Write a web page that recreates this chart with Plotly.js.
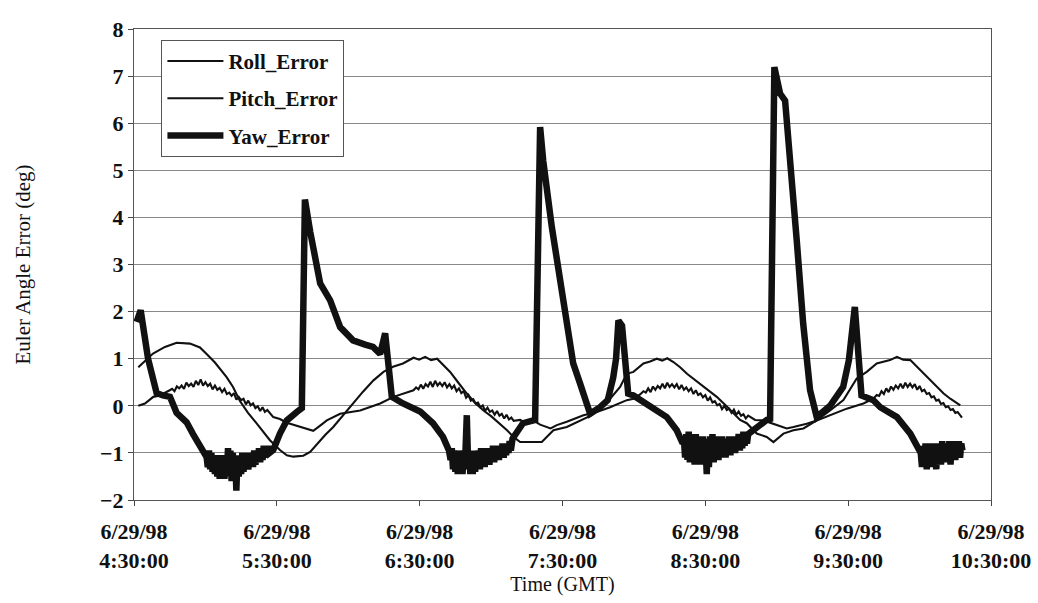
<!DOCTYPE html>
<html><head><meta charset="utf-8">
<script src="https://cdn.plot.ly/plotly-3.0.1.min.js"></script>
<style>html,body{margin:0;padding:0;background:#fff}</style>
</head><body><div id="chart" style="width:1038px;height:603px"></div>
<script>
// Series names
const seriesNames = ['Roll_Error', 'Pitch_Error', 'Yaw_Error'];
// [minutes after 6/29/98 4:30:00 GMT, error in degrees]
const rollData = [[1.8,0.0],[4.6,0.05],[8.1,0.19],[10.9,0.22],
[15,0.33],[16,0.36],[17,0.31],[18,0.41],[19,0.37],[20,0.43],[21,0.36],[22,0.49],[23,0.42],[24,0.47],[25,0.4],[26,0.53],[27,0.44],[28,0.56],[29,0.43],[30,0.5],[31,0.42],[32,0.47],[33,0.35],[34,0.43],[35,0.34],[36,0.38],[37,0.29],[38,0.36],[39,0.25],[40,0.28],[41,0.21],[42,0.27],[43,0.13],[44,0.19],[45,0.12],[46,0.15],[47,0.03],[48,0.11],[49,0.01],[50,0.05],[51,-0.05],[52,-0.01],[53,-0.11],[54,-0.03],[55,-0.13],[56,-0.09],
[58.5,-0.24],[61.3,-0.28],[64.2,-0.36],[66.8,-0.4],[69.8,-0.45],[72.6,-0.5],[75.3,-0.53],[78.2,-0.42],[81.0,-0.31],[86.6,-0.17],[95.0,-0.1],[103.4,0.05],[109.0,0.19],
[117.4,0.33],[118.5,0.39],[119.5,0.35],[120.5,0.45],[121.5,0.36],[122.5,0.46],[123.5,0.41],[124.5,0.51],[125.5,0.4],[126.5,0.53],[127.5,0.43],[128.5,0.49],[129.5,0.42],[130.5,0.5],[131.5,0.39],[132.5,0.46],[133.5,0.37],[134.5,0.43],[135.5,0.31],[136.5,0.37],[137.5,0.27],[138.5,0.31],[139.5,0.17],[140.5,0.23],[141.5,0.11],[142.5,0.14],[143.5,0.05],[144.5,0.07],[145.5,-0.03],[146.5,0.01],[147.5,-0.11],[148.5,-0.04],[149.5,-0.13],[150.5,-0.1],[151.5,-0.19],[152.5,-0.11],[153.5,-0.21],[154.5,-0.17],[155.5,-0.27],[156.5,-0.19],[157.5,-0.29],[158.5,-0.25],[159.5,-0.32],
[162.2,-0.3],[165.1,-0.38],[167.7,-0.31],[170.6,-0.4],[175.0,-0.48],[177.6,-0.41],[181.8,-0.34],[188.8,-0.2],[194.4,-0.13],[200.0,-0.03],[207.0,0.12],[209.8,0.15],
[212.6,0.24],[214,0.31],[215,0.28],[216,0.37],[217,0.29],[218,0.41],[219,0.34],[220,0.42],[221,0.37],[222,0.47],[223,0.37],[224,0.49],[225,0.4],[226,0.46],[227,0.39],[228,0.46],[229,0.35],[230,0.44],[231,0.34],[232,0.39],[233,0.31],[234,0.37],[235,0.25],[236,0.33],[237,0.23],[238,0.26],[239,0.18],[240,0.23],[241,0.11],[242,0.18],[243,0.07],[244,0.1],[245,0.01],[246,0.04],[247,-0.07],[248,0.0],[249,-0.09],[250,-0.06],[251,-0.15],[252,-0.08],[253,-0.19],[254,-0.12],[255,-0.21],[256,-0.18],[257,-0.27],[258,-0.21],
[260.9,-0.3],[264.4,-0.31],[268.6,-0.38],[274.2,-0.48],[277.0,-0.45],[282.6,-0.38],[286.8,-0.31],[292.4,-0.2],[299.4,-0.06],[306.4,0.05],
[310.6,0.15],[312,0.23],[313,0.21],[314,0.31],[315,0.25],[316,0.37],[317,0.29],[318,0.41],[319,0.34],[320,0.43],[321,0.37],[322,0.47],[323,0.37],[324,0.49],[325,0.4],[326,0.47],[327,0.39],[328,0.46],[329,0.34],[330,0.42],[331,0.31],[332,0.34],[333,0.25],[334,0.27],[335,0.18],[336,0.2],[337,0.11],[338,0.13],[339,0.04],[340,0.06],[341,-0.03],[342,-0.01],[343,-0.09],[344,-0.07],[345,-0.15],[346,-0.13],[347,-0.21],[347.8,-0.25]];
const pitchData = [[1.8,0.82],[4.6,0.95],[8.0,1.11],[13.0,1.25],[17.9,1.34],[23.5,1.32],[27.7,1.24],[30.5,1.1],[34.0,0.92],[38.9,0.61],[41.6,0.4],[44.5,0.1],[47.9,-0.15],[51.6,-0.38],[54.2,-0.55],[57.1,-0.73],[61.3,-0.94],[64.2,-1.05],[66.9,-1.08],[71.1,-1.06],[74.0,-0.98],[76.8,-0.82],[80.3,-0.62],[83.7,-0.45],[87.8,-0.2],[92.1,0.05],[96.2,0.3],[100.6,0.54],[104.8,0.72],[108.8,0.83],[113.0,0.9],[117.4,1.02],[119.8,0.98],[122.3,1.04],[124.8,0.97],[127.3,1.0],[129.8,0.88],[132.8,0.72],[136.1,0.5],[139.8,0.26],[143.3,0.06],[146.8,-0.1],[150.0,-0.22],[153.8,-0.38],[156.7,-0.52],[159.4,-0.66],[162.2,-0.77],[171.3,-0.77],[176.2,-0.52],[181.8,-0.45],[187.4,-0.31],[192.3,-0.2],[195.8,-0.05],[200.0,0.15],[204.2,0.4],[207.0,0.68],[209.8,0.72],[211.8,0.8],[214.0,0.9],[216.8,0.94],[219.6,1.0],[221.9,0.96],[224.0,1.01],[226.6,0.93],[229.4,0.82],[232.3,0.68],[234.9,0.58],[237.8,0.47],[241.2,0.32],[244.8,0.19],[248.3,0.02],[251.7,-0.16],[254.6,-0.3],[257.4,-0.37],[261.6,-0.59],[265.8,-0.66],[268.6,-0.77],[272.8,-0.59],[277.0,-0.52],[281.2,-0.48],[286.8,-0.31],[292.4,-0.1],[298.0,0.12],[303.6,0.58],[307.8,0.72],[312.0,0.9],[314.7,0.93],[317.6,0.97],[320.5,1.04],[323.1,0.98],[326.1,0.97],[329.0,0.82],[333.1,0.61],[336.6,0.42],[340.1,0.26],[342.9,0.15],[345.0,0.08],[347.1,0.01]];
const yawData = [[1.1,1.78],[2.8,2.03],[5.9,1.0],[9.5,0.27],[12.2,0.22],[15.1,0.19],[17.9,-0.15],[22.1,-0.35],[24.8,-0.6],[27.7,-0.87],[30.5,-1.09],
[31.0,-1.3],[31.5,-0.95],[32.0,-1.35],[32.5,-1.0],[33.0,-1.4],[33.5,-1.05],[34.0,-1.45],[34.5,-1.1],[35.0,-1.5],[35.5,-1.05],[36.0,-1.55],[36.5,-1.1],[37.0,-1.5],[37.5,-1.05],[38.0,-1.55],[38.5,-1.1],[39.0,-1.45],[39.5,-0.9],[40.0,-1.5],[40.5,-0.95],[41.0,-1.6],[41.5,-1.0],[42.0,-1.55],[42.5,-1.1],[43.0,-1.8],[43.5,-1.05],[44.0,-1.5],[44.5,-1.1],[45.0,-1.45],[45.5,-1.0],[46.0,-1.4],[46.5,-1.05],[47.0,-1.35],[47.5,-1.0],[48.0,-1.35],[48.5,-1.05],[49.0,-1.3],[49.5,-1.0],[50.0,-1.3],[50.5,-0.95],[51.0,-1.25],[51.5,-0.95],[52.0,-1.2],[52.5,-0.9],[53.0,-1.2],[53.5,-0.9],[54.0,-1.15],[54.5,-0.85],[55.0,-1.1],[55.5,-0.85],[56.0,-1.05],[56.5,-0.85],[57.0,-1.0],
[58.5,-0.94],[61.3,-0.59],[64.2,-0.31],[68.4,-0.13],[70.5,-0.05],[71.8,4.38],[72.5,4.1],[74.0,3.7],[78.2,2.6],[82.4,2.24],[86.6,1.67],[92.0,1.39],[97.1,1.3],[100.4,1.25],[103.4,1.1],[105.5,1.54],[108.3,0.19],[113.0,0.05],[120.2,-0.12],[125.6,-0.37],[129.8,-0.66],[132.3,-0.95],
[133.0,-1.15],[133.5,-0.9],[134.0,-1.35],[134.5,-0.95],[135.0,-1.4],[135.5,-1.0],[136.0,-1.45],[136.5,-0.95],[137.0,-1.4],[137.5,-1.0],[138.0,-1.45],[138.5,-1.0],[139.0,-1.3],[139.8,-0.2],[140.4,-1.35],[140.8,-1.0],[141.3,-1.45],[141.8,-1.0],[142.3,-1.45],[142.8,-0.95],[143.3,-1.4],[143.8,-1.0],[144.3,-1.35],[144.8,-0.95],[145.3,-1.35],[145.8,-0.9],[146.3,-1.3],[146.8,-0.95],[147.3,-1.3],[147.8,-0.9],[148.3,-1.25],[148.8,-0.9],[149.3,-1.25],[149.8,-0.9],[150.3,-1.2],[150.8,-0.85],[151.3,-1.2],[151.8,-0.85],[152.3,-1.15],[152.8,-0.85],[153.3,-1.15],[153.8,-0.85],[154.3,-1.1],[154.8,-0.8],[155.3,-1.1],[155.8,-0.8],[156.3,-1.05],[156.8,-0.8],[157.3,-1.0],[157.8,-0.75],[158.3,-0.95],[159.0,-0.7],
[163.4,-0.37],[167.7,-0.28],[168.5,-0.3],[170.6,5.92],[171.9,5.2],[175.5,3.8],[179.0,2.66],[181.8,1.96],[184.5,0.9],[187.4,0.47],[191.6,-0.17],[195.8,-0.03],[199.0,0.12],[201.3,0.6],[202.5,1.0],[203.5,1.81],[205.0,1.7],[207.6,0.26],[209.8,0.22],[214.0,0.08],[219.6,-0.1],[223.8,-0.24],[228.0,-0.52],[230.5,-0.8],
[231.0,-0.7],[231.5,-1.1],[232.0,-0.6],[232.5,-1.15],[233.0,-0.55],[233.5,-1.2],[234.0,-0.6],[234.5,-1.2],[235.0,-0.65],[235.5,-1.25],[236.0,-0.6],[236.5,-1.2],[237.0,-0.65],[237.5,-1.25],[238.0,-0.7],[238.5,-1.2],[239.0,-0.65],[239.5,-1.25],[240.0,-0.75],[240.6,-1.45],[241.0,-0.7],[241.5,-1.3],[242.0,-0.65],[242.5,-1.2],[243.0,-0.6],[243.5,-1.2],[244.0,-0.7],[244.5,-1.15],[245.0,-0.65],[245.5,-1.15],[246.0,-0.7],[246.5,-1.1],[247.0,-0.65],[247.5,-1.1],[248.0,-0.7],[248.5,-1.1],[249.0,-0.7],[249.5,-1.05],[250.0,-0.65],[250.5,-1.05],[251.0,-0.7],[251.5,-1.0],[252.0,-0.65],[252.5,-1.0],[253.0,-0.65],[253.5,-0.95],[254.0,-0.6],[254.5,-0.95],[255.0,-0.6],[255.5,-0.9],[256.0,-0.55],[256.5,-0.85],[257.0,-0.55],[257.5,-0.8],[258.0,-0.6],
[261.6,-0.45],[265.8,-0.3],[267.2,-0.28],[269.0,7.19],[271.4,6.63],[273.5,6.48],[278.4,3.51],[281.1,1.75],[284.0,0.33],[286.8,-0.24],[292.4,0.0],[297.9,0.4],[300.3,0.97],[302.8,2.1],[305.6,0.22],[310.6,0.12],[313.5,-0.03],[320.5,-0.24],[326.1,-0.59],[329.8,-0.9],
[330.5,-1.0],[331.0,-1.3],[331.5,-0.85],[332.0,-1.3],[332.5,-0.8],[333.0,-1.35],[333.5,-0.85],[334.0,-1.3],[334.5,-0.8],[335.0,-1.3],[335.5,-0.85],[336.0,-1.25],[336.5,-0.8],[337.0,-1.35],[337.5,-0.85],[338.0,-1.25],[338.5,-0.8],[339.0,-1.25],[339.5,-0.75],[340.0,-1.2],[340.5,-0.8],[341.0,-1.2],[341.5,-0.8],[342.0,-1.2],[342.5,-0.75],[343.0,-1.25],[343.5,-0.8],[344.0,-1.15],[344.5,-0.75],[345.0,-1.15],[345.5,-0.8],[346.0,-1.1],[346.5,-0.75],[347.0,-1.1],[347.5,-0.8],[348.0,-0.95]];

const axisStart = '1998-06-29 04:30:00';
const axisEnd = '1998-06-29 10:30:00';
const yRange = [-2, 8];

function toDate(min) {
  const base = Date.UTC(1998, 5, 29, 4, 30, 0);
  return new Date(base + Math.round(min * 60000)).toISOString().replace('T', ' ').slice(0, 19);
}

const serif = 'Liberation Serif, Times New Roman, serif';
const widths = [2.1, 2.1, 6.5];
const datasets = [rollData, pitchData, yawData];
const traces = datasets.map((d, i) => ({
  type: 'scatter', mode: 'lines', name: seriesNames[i], legendgroup: 'g' + i,
  x: d.map(p => toDate(p[0])), y: d.map(p => p[1]),
  line: {color: '#111', width: widths[i]}
}));

const layout = {
  width: 1038, height: 603,
  margin: {l: 134, r: 47, t: 29, b: 103},
  paper_bgcolor: '#fff', plot_bgcolor: '#fff',
  showlegend: true,
  legend: {x: 0.032, y: 0.977, xanchor: 'left', yanchor: 'top', bgcolor: '#fff',
    bordercolor: '#555', borderwidth: 1, tracegroupgap: 7, itemwidth: 56,
    font: {family: serif, size: 21, color: '#111', weight: 'bold'}},
  xaxis: {
    type: 'date', range: [axisStart, axisEnd], tick0: axisStart, dtick: 3600000,
    tickformat: '%-m/%d/%y<br>%-H:%M:%S',
    tickfont: {family: serif, size: 22, color: '#111', weight: 'bold'},
    ticks: 'outside', ticklen: 5, tickcolor: '#444', ticklabelstandoff: 7,
    showline: true, linecolor: '#555', linewidth: 1, mirror: true,
    showgrid: false, zeroline: false,
    title: {text: 'Time (GMT)', font: {family: serif, size: 20, color: '#111'}, standoff: 0}
  },
  yaxis: {
    range: yRange, dtick: 1, tick0: 0,
    tickfont: {family: serif, size: 22, color: '#111', weight: 'bold'},
    ticks: 'outside', ticklen: 5, tickcolor: '#444',
    showline: true, linecolor: '#555', linewidth: 1, mirror: true,
    showgrid: true, gridcolor: '#888', gridwidth: 1, zeroline: false,
    title: {text: 'Euler Angle Error (deg)', font: {family: serif, size: 21, color: '#111'}, standoff: 63}
  }
};

Plotly.newPlot('chart', traces, layout, {displayModeBar: false, staticPlot: true});
</script>
</body></html>
